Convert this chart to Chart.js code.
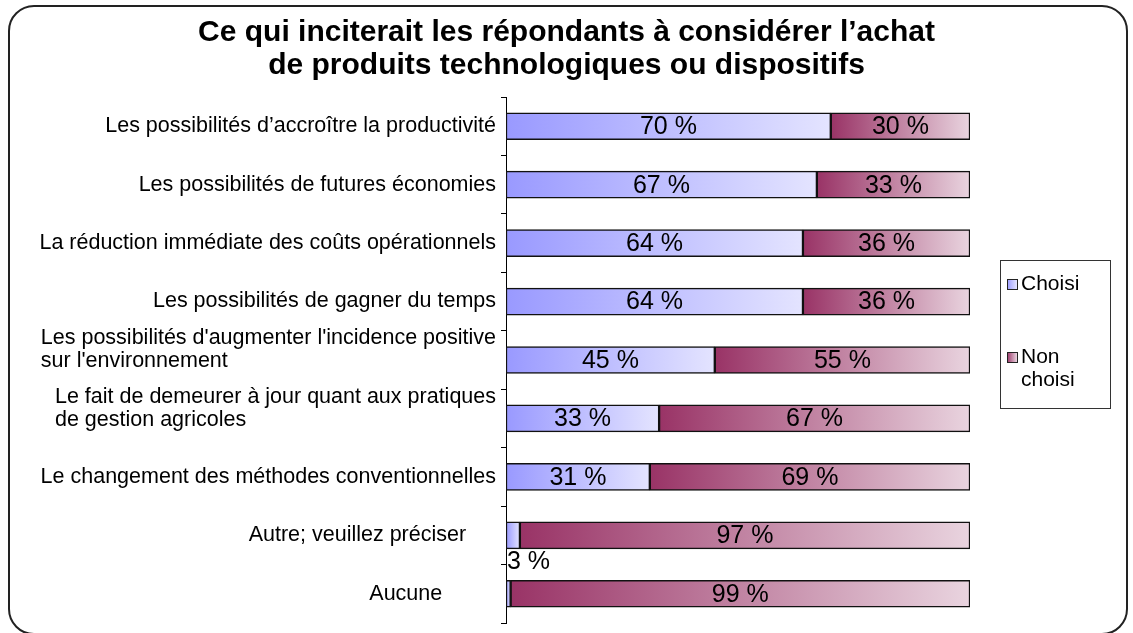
<!DOCTYPE html>
<html lang="fr">
<head>
<meta charset="utf-8">
<title>Ce qui inciterait les répondants à considérer l’achat</title>
<script src="https://cdn.jsdelivr.net/npm/chart.js@4.4.1/dist/chart.umd.min.js"></script>
<style>
  html, body { margin: 0; padding: 0; background: #fff; }
  #wrap { position: relative; width: 1133px; height: 633px; overflow: hidden; }
  #chart { position: absolute; left: 0; top: 0; }
  #frame {
    position: absolute; left: 8px; top: 5px; width: 1120px; height: 630px;
    border: 2px solid #222; border-radius: 26px; box-sizing: border-box;
    pointer-events: none;
  }
</style>
</head>
<body>
<div id="wrap">
  <canvas id="chart" width="1133" height="633"></canvas>
  <div id="frame"></div>
</div>
<script>
const TITLE_LINES = [
  "Ce qui inciterait les répondants à considérer l’achat",
  "de produits technologiques ou dispositifs"
];

// trailing spaces keep the original label offsets
const categories = [
  "Les possibilités d’accroître la productivité",
  "Les possibilités de futures économies",
  "La réduction immédiate des coûts opérationnels",
  "Les possibilités de gagner du temps",
  ["Les possibilités d'augmenter l'incidence positive", "sur l'environnement"],
  ["Le fait de demeurer à jour quant aux pratiques", "de gestion agricoles"],
  "Le changement des méthodes conventionnelles",
  "Autre; veuillez préciser     ",
  "Aucune         "
];

const seriesNames = ["Choisi", "Non choisi"];
const choisi = [70, 67, 64, 64, 45, 33, 31, 3, 1];
const nonChoisi = [30, 33, 36, 36, 55, 67, 69, 97, 99];

const BLUE = ["#9999ff", "#e4e4ff"];
const MAROON = ["#993366", "#e9d4df"];

const FONT = 'Arial, "Liberation Sans", sans-serif';
Chart.defaults.font.family = FONT;
Chart.defaults.color = "#000";

function gradientFill(colors) {
  return ctx => {
    const chart = ctx.chart;
    const xScale = chart.scales.x;
    if (!xScale || ctx.type !== "data") return colors[0];
    const di = ctx.datasetIndex;
    const i = ctx.dataIndex;
    let start = 0;
    for (let d = 0; d < di; d++) start += chart.data.datasets[d].data[i];
    const end = start + chart.data.datasets[di].data[i];
    const x0 = xScale.getPixelForValue(start);
    const x1 = xScale.getPixelForValue(end);
    // scales are not laid out yet on the first reset pass
    if (!Number.isFinite(x0) || !Number.isFinite(x1)) return colors[0];
    const g = chart.ctx.createLinearGradient(x0, 0, Math.max(x1, x0 + 1), 0);
    g.addColorStop(0, colors[0]);
    g.addColorStop(1, colors[1]);
    return g;
  };
}

// category labels: block right-aligned to the axis, lines left-aligned
const categoryLabels = {
  id: "categoryLabels",
  afterDraw(chart) {
    const ctx = chart.ctx;
    const y = chart.scales.y;
    const right = chart.chartArea.left - 10;
    const lineH = 23;
    ctx.save();
    ctx.font = "21.5px " + FONT;
    ctx.fillStyle = "#000";
    ctx.textAlign = "left";
    ctx.textBaseline = "middle";
    chart.data.labels.forEach((label, i) => {
      const lines = Array.isArray(label) ? label : [label];
      const maxW = Math.max(...lines.map(l => ctx.measureText(l).width));
      const left = right - maxW;
      const yc = y.getPixelForValue(i) + (lines.length > 1 ? -10 : 0);
      lines.forEach((line, j) => {
        ctx.fillText(line, left, yc + (j - (lines.length - 1) / 2) * lineH);
      });
    });
    ctx.restore();
  }
};

const valueLabels = {
  id: "valueLabels",
  afterDatasetsDraw(chart) {
    const ctx = chart.ctx;
    ctx.save();
    ctx.font = "25px " + FONT;
    ctx.fillStyle = "#000";
    ctx.textBaseline = "middle";
    chart.data.datasets.forEach((ds, di) => {
      const meta = chart.getDatasetMeta(di);
      meta.data.forEach((bar, i) => {
        const v = ds.data[i];
        if (v < 2) return;
        const text = `${v} %`;
        if (v < 5) {
          ctx.textAlign = "left";
          ctx.fillText(text, bar.base + 1, bar.y + bar.height / 2 + 13);
        } else {
          ctx.textAlign = "center";
          ctx.fillText(text, (bar.x + bar.base) / 2, bar.y + 1);
        }
      });
    });
    ctx.restore();
  }
};

const boxLegend = {
  id: "boxLegend",
  afterDraw(chart) {
    const ctx = chart.ctx;
    const box = { left: 1000, top: 260, width: 110, height: 148 };
    const textX = box.left + 21;
    const maxText = box.left + box.width - textX - 4;
    ctx.save();
    ctx.strokeStyle = "#333";
    ctx.lineWidth = 1;
    ctx.strokeRect(box.left + 0.5, box.top + 0.5, box.width, box.height);
    ctx.font = "21px " + FONT;
    ctx.fillStyle = "#000";
    ctx.textAlign = "left";
    ctx.textBaseline = "middle";
    chart.data.datasets.forEach((ds, di) => {
      // simple word wrap inside the box
      const words = ds.label.split(" ");
      const lines = [];
      let cur = "";
      words.forEach(w => {
        const test = cur ? cur + " " + w : w;
        if (cur && ctx.measureText(test).width > maxText) {
          lines.push(cur);
          cur = w;
        } else {
          cur = test;
        }
      });
      lines.push(cur);

      const yTop = box.top + 24 + di * 73;
      const colors = ds.legendColors;
      const g = ctx.createLinearGradient(box.left + 7, 0, box.left + 17, 0);
      g.addColorStop(0, colors[0]);
      g.addColorStop(1, colors[1]);
      ctx.fillStyle = g;
      ctx.fillRect(box.left + 7, yTop - 5, 10, 10);
      ctx.strokeStyle = "#222";
      ctx.strokeRect(box.left + 7.5, yTop - 4.5, 10, 10);
      ctx.fillStyle = "#000";
      lines.forEach((line, j) => ctx.fillText(line, textX, yTop + j * 23));
    });
    ctx.restore();
  }
};

new Chart(document.getElementById("chart"), {
  type: "bar",
  data: {
    labels: categories,
    datasets: [
      {
        label: seriesNames[0],
        data: choisi,
        backgroundColor: gradientFill(BLUE),
        legendColors: BLUE,
        borderColor: "#111",
        borderWidth: 1.5,
        borderSkipped: false,
        barThickness: 27
      },
      {
        label: seriesNames[1],
        data: nonChoisi,
        backgroundColor: gradientFill(MAROON),
        legendColors: MAROON,
        borderColor: "#111",
        borderWidth: 1.5,
        borderSkipped: false,
        barThickness: 27
      }
    ]
  },
  options: {
    indexAxis: "y",
    responsive: false,
    devicePixelRatio: 1,
    animation: false,
    layout: { padding: { left: 0, right: 0, top: 0, bottom: 10 } },
    plugins: {
      legend: { display: false },
      tooltip: { enabled: false },
      title: {
        display: true,
        text: TITLE_LINES,
        color: "#000",
        font: { size: 30, weight: "bold", lineHeight: 1.1 },
        padding: { top: 16, bottom: 15 }
      }
    },
    scales: {
      x: { stacked: true, min: 0, max: 100, display: false },
      y: {
        stacked: true,
        afterFit: scale => { scale.width = 506; },
        ticks: { display: false },
        grid: {
          offset: true,
          drawOnChartArea: false,
          drawTicks: true,
          tickLength: 5,
          color: "#000"
        },
        border: { display: true, color: "#000", width: 1 }
      },
      // empty right axis reserves room for the legend box
      legendSpace: {
        type: "linear",
        position: "right",
        axis: "y",
        min: 0,
        max: 1,
        ticks: { display: false },
        grid: { display: false },
        border: { display: false },
        afterFit: scale => { scale.width = 163; }
      }
    }
  },
  plugins: [valueLabels, categoryLabels, boxLegend]
});
</script>
</body>
</html>
